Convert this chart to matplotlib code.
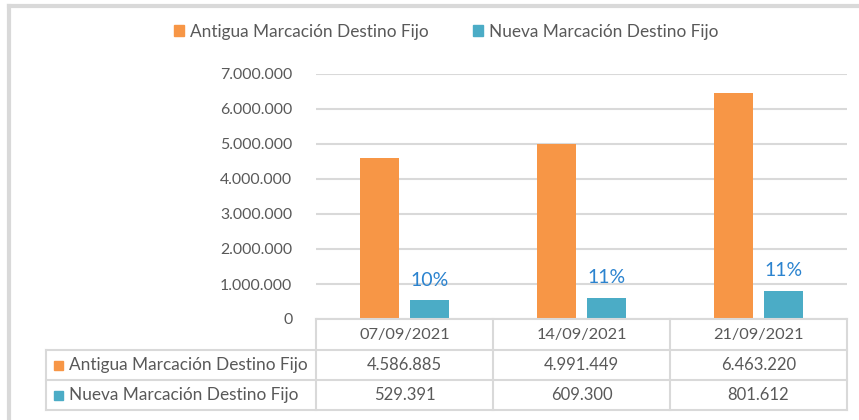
import matplotlib
matplotlib.use('Agg')
import matplotlib.pyplot as plt
from matplotlib.patches import Patch, Rectangle
from matplotlib.lines import Line2D
from matplotlib.ticker import FuncFormatter

# data
fechas = ['07/09/2021', '14/09/2021', '21/09/2021']
series = ['Antigua Marcación Destino Fijo', 'Nueva Marcación Destino Fijo']
antigua = [4586885, 4991449, 6463220]
nueva = [529391, 609300, 801612]

colores = ['#F79646', '#4BACC6']
gris_texto = '#595959'
gris_linea = '#D9D9D9'
azul_pct = '#2B83CF'

plt.rcParams['font.family'] = ['Lato', 'DejaVu Sans']

W, H = 859, 420
fig = plt.figure(figsize=(W / 100, H / 100), dpi=100)


def fx(px):
    return px / W


def fy(py):
    return 1 - py / H


ax_l, ax_r, ax_t, ax_b = 316, 847, 74, 319
ax = fig.add_axes([fx(ax_l), fy(ax_b), fx(ax_r - ax_l), (ax_b - ax_t) / H])

x = list(range(len(fechas)))
ancho = 0.22
desp = 0.14
ax.bar([i - desp for i in x], antigua, ancho, color=colores[0], zorder=3)
ax.bar([i + desp for i in x], nueva, ancho, color=colores[1], zorder=3)

for i in x:
    pct = nueva[i] / (antigua[i] + nueva[i])
    ax.text(i + desp, nueva[i] + 580000, f'{pct:.0%}', ha='center', va='center',
            color=azul_pct, fontsize=14)

ax.set_xlim(-0.5, len(fechas) - 0.5)
ax.set_ylim(0, 7000000)
ax.set_yticks(range(0, 7000001, 1000000))
ax.yaxis.set_major_formatter(FuncFormatter(lambda v, p: f'{int(v):,}'.replace(',', '.')))
ax.tick_params(axis='y', length=0, pad=17, labelsize=11.4, labelcolor=gris_texto)
ax.set_xticks([])
ax.grid(axis='y', color=gris_linea, linewidth=1.5, zorder=0)
for s in ax.spines.values():
    s.set_visible(False)

# data table below the axes
col_edges = [ax_l + (ax_r - ax_l) * k / len(fechas) for k in range(len(fechas) + 1)]
rows = [319, 350, 380, 410]
tab_l = 46


def hline(x0, x1, y):
    fig.add_artist(Line2D([fx(x0), fx(x1)], [fy(y), fy(y)], color=gris_linea, lw=1.5))


def vline(x, y0, y1):
    fig.add_artist(Line2D([fx(x), fx(x)], [fy(y0), fy(y1)], color=gris_linea, lw=1.5))


hline(ax_l, ax_r, rows[0])
for y in rows[1:]:
    hline(tab_l, ax_r, y)
for cx in col_edges:
    vline(cx, rows[0], rows[-1])
vline(tab_l, rows[1], rows[-1])

for k, f in enumerate(fechas):
    cx = (col_edges[k] + col_edges[k + 1]) / 2
    fig.text(fx(cx), fy((rows[0] + rows[1]) / 2), f, ha='center', va='center',
             fontsize=11.8, color=gris_texto)

for r, (nombre, vals) in enumerate(zip(series, [antigua, nueva])):
    cy = (rows[r + 1] + rows[r + 2]) / 2
    fig.add_artist(Rectangle((fx(54), fy(cy + 4.5)), fx(9), 9 / H, color=colores[r],
                             transform=fig.transFigure))
    fig.text(fx(69), fy(cy), nombre, ha='left', va='center', fontsize=12.4, color=gris_texto)
    for k, v in enumerate(vals):
        cx = (col_edges[k] + col_edges[k + 1]) / 2
        fig.text(fx(cx), fy(cy), f'{v:,}'.replace(',', '.'), ha='center', va='center',
                 fontsize=12, color=gris_texto)

# legend
handles = [Patch(color=c) for c in colores]
fig.legend(handles, series, loc='center', bbox_to_anchor=(fx(446), fy(32)), ncol=2,
           frameon=False, fontsize=12.4, labelcolor=gris_texto, handlelength=0.6,
           handleheight=0.6, handletextpad=0.3, columnspacing=2.6)

# chart border (top and left visible)
fig.add_artist(Line2D([fx(9), fx(9)], [fy(6), 0], color=gris_linea, lw=3))
fig.add_artist(Line2D([fx(9), 1], [fy(6), fy(6)], color=gris_linea, lw=3))

fig.savefig('out.png', dpi=100)
